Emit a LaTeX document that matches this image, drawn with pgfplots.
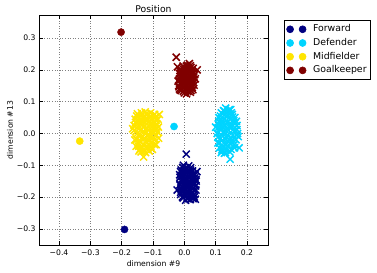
\documentclass[border=0pt]{standalone}
\usepackage{fontspec}
\setmainfont{DejaVu Sans}
\usepackage{pgfplots}
\pgfplotsset{compat=1.18}
\definecolor{jnavy}{rgb}{0,0,0.5}
\definecolor{jcyan}{rgb}{0,0.83,1}
\definecolor{jyellow}{rgb}{1,0.9,0}
\definecolor{jred}{rgb}{0.5,0,0}
\begin{document}
\begin{tikzpicture}
\useasboundingbox (-39bp,-28bp) rectangle (338bp,245bp);
\begin{axis}[
  at={(0,0)}, anchor=south west,
  scale only axis, width=229bp, height=230bp,
  xmin=-0.464, xmax=0.267, ymin=-0.351, ymax=0.373,
  xtick={-0.4,-0.3,-0.2,-0.1,0,0.1,0.2},
  xticklabels={−0.4,−0.3,−0.2,−0.1,0.0,0.1,0.2},
  ytick={-0.3,-0.2,-0.1,0,0.1,0.2,0.3},
  yticklabels={−0.3,−0.2,−0.1,0.0,0.1,0.2,0.3},
  tick label style={font=\fontsize{7.7}{9}\selectfont},
  xticklabel style={yshift=-1bp},
  major tick length=4bp,
  tick style={black, line width=0.5bp},
  axis line style={line width=0.8bp},
  grid=major,
  major grid style={gray, line width=0.5bp, dash pattern=on 0.8bp off 1.8bp},
  title={Position},
  title style={font=\fontsize{9.3}{11}\selectfont, at={(rel axis cs:0.5,1)}, anchor=base, yshift=-3bp},
  xlabel={dimension \#9},
  xlabel style={font=\fontsize{7.7}{9}\selectfont, at={([yshift=-19bp]rel axis cs:0.5,0)}, anchor=center},
  ylabel={dimension \#13},
  ylabel style={font=\fontsize{7.7}{9}\selectfont, at={([xshift=-29bp]rel axis cs:0,0.5)}, anchor=center, rotate=0},
  legend style={at={(1,1)}, anchor=north west, xshift=16bp, yshift=-5bp,
    draw=black, line width=0.6bp, fill=white,
    font=\fontsize{9.4}{11}\selectfont,
    inner xsep=2.3bp, inner ysep=3.3bp, row sep=2.3bp,
    nodes={inner sep=1.2bp, text height=7bp, text depth=2bp}, cells={anchor=west},
    /tikz/every odd column/.append style={column sep=5.8bp}},
  legend image code/.code={\draw[#1,only marks] plot coordinates {(0bp,0bp) (12.5bp,0bp)};},
  clustx/.style={only marks, mark=x, mark size=5bp, line width=1.5bp},
  cent/.style={only marks, mark=*, mark size=3.6bp},
]
\addlegendimage{mark=*, mark size=3.5bp, color=jnavy}
\addlegendentry{Forward}
\addlegendimage{mark=*, mark size=3.5bp, color=jcyan}
\addlegendentry{Defender}
\addlegendimage{mark=*, mark size=3.5bp, color=jyellow}
\addlegendentry{Midfielder}
\addlegendimage{mark=*, mark size=3.5bp, color=jred}
\addlegendentry{Goalkeeper}

% Forward
\addplot[clustx, color=jnavy, forget plot] coordinates {
(-0.015,-0.130) (-0.013,-0.160) (-0.012,-0.185) (-0.010,-0.115) (-0.008,-0.145)
(-0.006,-0.200) (-0.004,-0.170) (-0.002,-0.125) (0.000,-0.155) (0.001,-0.190)
(0.003,-0.108) (0.005,-0.140) (0.006,-0.175) (0.008,-0.203) (0.010,-0.120)
(0.011,-0.160) (0.013,-0.185) (0.015,-0.135) (0.016,-0.150) (0.018,-0.198)
(0.020,-0.115) (0.021,-0.170) (0.023,-0.145) (0.025,-0.188) (0.027,-0.128)
(0.029,-0.160) (0.031,-0.178) (0.033,-0.140) (0.036,-0.165) (0.038,-0.150)
(-0.011,-0.172) (0.004,-0.210) (0.019,-0.208) (-0.003,-0.100) (0.014,-0.102)
(0.024,-0.200) (0.009,-0.168) (-0.007,-0.135) (0.032,-0.192) (0.017,-0.130)
(-0.005,-0.107) (0.008,-0.110) (0.020,-0.108)
(-0.012,-0.120) (0.000,-0.118) (0.012,-0.117) (0.026,-0.118)
(-0.014,-0.138) (-0.002,-0.133) (0.010,-0.135) (0.022,-0.132) (0.034,-0.130)
(-0.010,-0.150) (0.002,-0.147) (0.013,-0.150) (0.026,-0.148) (0.037,-0.145)
(-0.014,-0.162) (-0.002,-0.163) (0.010,-0.160) (0.022,-0.163) (0.033,-0.158)
(-0.010,-0.178) (0.002,-0.175) (0.015,-0.178) (0.027,-0.175) (0.037,-0.178)
(-0.012,-0.192) (0.000,-0.188) (0.011,-0.192) (0.022,-0.190) (0.032,-0.200)
(-0.004,-0.203) (0.012,-0.205) (0.028,-0.205)
(0.006,-0.065) (0.035,-0.207) (-0.023,-0.178) (0.040,-0.120)
};
% Defender
\addplot[clustx, color=jcyan, forget plot] coordinates {
(0.105,0.000) (0.107,-0.030) (0.108,0.030) (0.110,0.050) (0.112,-0.045)
(0.114,0.015) (0.116,-0.015) (0.118,0.065) (0.120,-0.055) (0.122,0.040)
(0.124,0.005) (0.126,-0.030) (0.128,0.070) (0.130,0.025) (0.131,-0.060)
(0.133,-0.010) (0.135,0.055) (0.137,0.035) (0.139,-0.040) (0.141,0.010)
(0.143,0.075) (0.145,-0.020) (0.147,0.045) (0.149,-0.050) (0.151,0.020)
(0.153,0.060) (0.155,-0.005) (0.157,0.035) (0.159,-0.035) (0.161,0.050)
(0.163,0.010) (0.165,-0.020) (0.168,0.025) (0.170,0.000) (0.172,-0.010)
(0.125,0.020) (0.138,-0.025) (0.115,0.040) (0.150,0.065) (0.132,0.080)
(0.118,-0.060)
(0.125,0.072) (0.138,0.068) (0.148,0.075)
(0.115,0.055) (0.127,0.058) (0.140,0.057) (0.154,0.052)
(0.110,0.038) (0.122,0.032) (0.134,0.040) (0.146,0.033) (0.158,0.040) (0.166,0.038)
(0.108,0.018) (0.120,0.015) (0.132,0.010) (0.144,0.020) (0.156,0.012) (0.168,0.012)
(0.107,-0.012) (0.119,-0.005) (0.130,-0.015) (0.142,-0.008) (0.154,-0.020) (0.167,-0.005)
(0.112,-0.030) (0.124,-0.040) (0.136,-0.030) (0.148,-0.032) (0.160,-0.045)
(0.120,-0.050) (0.133,-0.052) (0.145,-0.058) (0.128,-0.062)
(0.146,-0.081) (0.175,-0.045) (0.100,0.020)
};
% Midfielder
\addplot[clustx, color=jyellow, forget plot] coordinates {
(-0.160,0.010) (-0.158,-0.020) (-0.156,0.035) (-0.154,-0.040) (-0.152,0.055)
(-0.150,0.000) (-0.148,-0.030) (-0.146,0.025) (-0.144,0.050) (-0.142,-0.050)
(-0.140,0.010) (-0.138,-0.015) (-0.136,0.040) (-0.134,0.060) (-0.132,-0.035)
(-0.130,0.020) (-0.128,-0.055) (-0.126,0.000) (-0.124,0.045) (-0.122,-0.025)
(-0.120,0.030) (-0.118,0.060) (-0.116,-0.045) (-0.114,0.010) (-0.112,-0.010)
(-0.110,0.040) (-0.108,0.055) (-0.106,-0.030) (-0.104,0.020) (-0.102,-0.050)
(-0.100,0.000) (-0.098,0.035) (-0.096,-0.020) (-0.094,0.050) (-0.092,0.015)
(-0.090,-0.035) (-0.088,0.030) (-0.086,0.005) (-0.084,0.045) (-0.082,-0.015)
(-0.145,-0.055) (-0.125,0.068)
(-0.150,0.062) (-0.137,0.065) (-0.122,0.062) (-0.108,0.065) (-0.095,0.060)
(-0.157,0.045) (-0.145,0.040) (-0.131,0.048) (-0.117,0.042) (-0.103,0.045) (-0.090,0.042)
(-0.160,0.025) (-0.148,0.020) (-0.134,0.028) (-0.120,0.018) (-0.106,0.028) (-0.093,0.022) (-0.083,0.020)
(-0.155,0.005) (-0.143,-0.002) (-0.129,0.005) (-0.115,-0.002) (-0.101,0.008) (-0.089,-0.005)
(-0.152,-0.018) (-0.140,-0.025) (-0.126,-0.015) (-0.112,-0.022) (-0.098,-0.012)
(-0.146,-0.040) (-0.134,-0.045) (-0.120,-0.040) (-0.107,-0.042) (-0.095,-0.035)
(-0.138,-0.058) (-0.124,-0.060) (-0.112,-0.055)
(-0.130,-0.074) (-0.165,0.015) (-0.080,0.060)
};
% Goalkeeper
\addplot[clustx, color=jred, forget plot] coordinates {
(-0.018,0.150) (-0.015,0.172) (-0.012,0.190) (-0.010,0.135) (-0.008,0.160)
(-0.006,0.205) (-0.004,0.145) (-0.002,0.178) (0.000,0.128) (0.000,0.195)
(0.002,0.163) (0.004,0.140) (0.005,0.185) (0.006,0.212) (0.008,0.152)
(0.010,0.170) (0.011,0.132) (0.013,0.198) (0.015,0.158) (0.016,0.182)
(0.018,0.143) (0.020,0.168) (0.022,0.192) (0.024,0.150) (0.026,0.175)
(0.028,0.205) (0.030,0.160) (0.033,0.185) (-0.014,0.198) (-0.016,0.140)
(0.019,0.130) (0.007,0.125) (-0.005,0.168) (0.012,0.208) (0.027,0.138)
(-0.020,0.165) (0.035,0.172) (0.003,0.150) (-0.009,0.182) (0.021,0.208)
(-0.013,0.137) (-0.003,0.133) (0.009,0.138) (0.021,0.135)
(-0.017,0.147) (-0.007,0.150) (0.004,0.147) (0.014,0.146) (0.025,0.144)
(-0.014,0.157) (-0.002,0.156) (0.009,0.160) (0.020,0.155) (0.031,0.152)
(-0.017,0.166) (-0.007,0.170) (0.005,0.165) (0.015,0.170) (0.026,0.166)
(-0.013,0.180) (-0.001,0.183) (0.010,0.178) (0.021,0.180) (0.030,0.178)
(-0.016,0.189) (-0.005,0.192) (0.007,0.190) (0.017,0.193) (0.027,0.190)
(-0.010,0.200) (0.002,0.203) (0.014,0.200) (0.024,0.199)
(-0.004,0.212) (0.009,0.215) (0.019,0.213)
(-0.026,0.240) (0.041,0.200) (0.016,0.220) (-0.022,0.210)
};
% centroids
\addplot[cent, color=jnavy, forget plot] coordinates {(-0.191,-0.302)};
\addplot[cent, color=jcyan, forget plot] coordinates {(-0.033,0.022)};
\addplot[cent, color=jyellow, forget plot] coordinates {(-0.334,-0.024)};
\addplot[cent, color=jred, forget plot] coordinates {(-0.202,0.319)};
\end{axis}
\end{tikzpicture}
\end{document}
